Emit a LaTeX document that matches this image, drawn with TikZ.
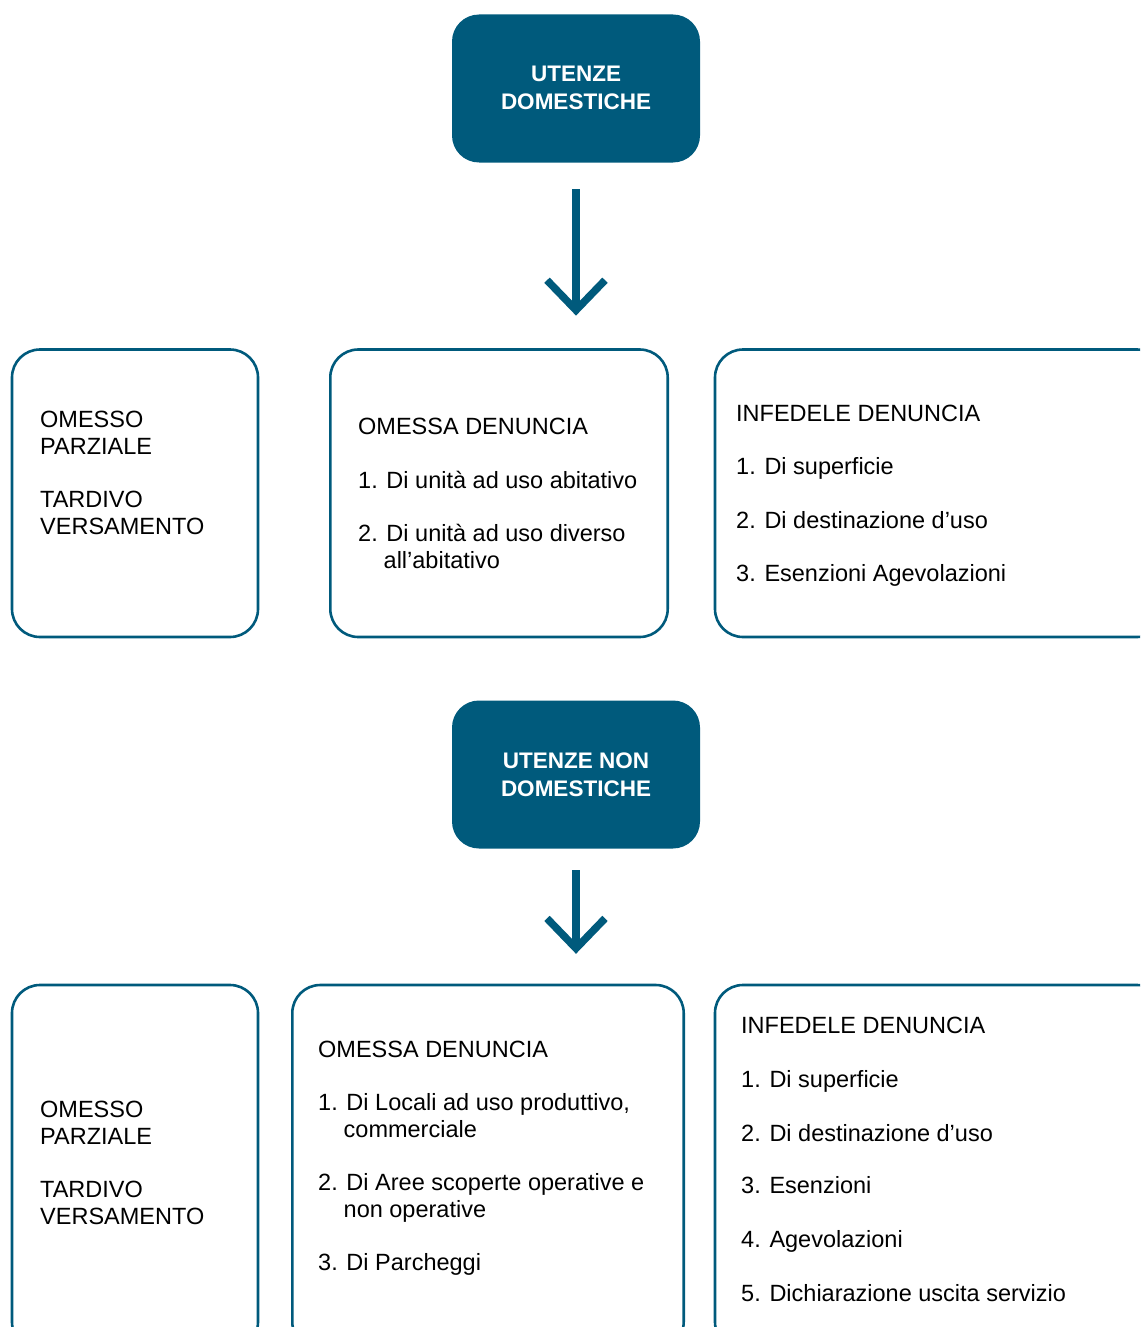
\documentclass[tikz,border=0pt]{standalone}
\usepackage{fontspec}
\setmainfont{Liberation Sans}
\definecolor{myteal}{RGB}{0,90,124}
\begin{document}
\begin{tikzpicture}[x=1pt,y=-1pt,
  darkbox/.style={fill=myteal, draw=none, rounded corners=27pt, inner sep=0},
  lightbox/.style={draw=myteal, line width=2.6pt, rounded corners=28pt, inner sep=0},
  txt/.style={anchor=base west, inner sep=0, font=\fontsize{23.5}{27}\selectfont},
  head/.style={anchor=base, inner sep=0, text=white, font=\bfseries\fontsize{22.5}{28}\selectfont},
  shaft/.style={draw=myteal, line width=7.5pt, miter limit=10}
]
\useasboundingbox (0,0) rectangle (1140,1327);
\clip (0,0) rectangle (1140,1327);

% ---------- top section ----------
\node[darkbox, minimum width=248pt, minimum height=148pt] (ud) at (576,88.5) {};
\node[head] (ud1) at (576,82) {UTENZE};
\node[head] (ud2) at (576,110) {DOMESTICHE};

\node[lightbox, minimum width=246pt, minimum height=287.5pt] (a) at (135,493.25) {};
\node[lightbox, minimum width=337.4pt, minimum height=287.5pt] (b) at (499,493.25) {};
\node[lightbox, minimum width=450pt, minimum height=287.5pt] (c) at (940,493.25) {};

\draw[shaft] ([yshift=-26.5pt]ud.south) -- ([yshift=38pt]ud.south |- b.north) coordinate (tip1);
\draw[shaft] ([shift={(-29pt,30pt)}]tip1) -- (tip1) -- ([shift={(29pt,30pt)}]tip1);

\node[txt] (a1) at (40,427) {OMESSO};
\node[txt] (a2) at (40,454) {PARZIALE};
\node[txt] (a3) at (40,507) {TARDIVO};
\node[txt] (a4) at (40,534) {VERSAMENTO};

\node[txt] (b1) at (358,434.5) {OMESSA DENUNCIA};
\node[txt] (b2) at (358,488.5) {1. Di unità ad uso abitativo};
\node[txt] (b3) at (358,541.5) {2. Di unità ad uso diverso};
\node[txt] (b4) at (383.5,568.5) {all’abitativo};

\node[txt] (c1) at (736,421) {INFEDELE DENUNCIA};
\node[txt] (c2) at (736,474) {1. Di superficie};
\node[txt] (c3) at (736,528) {2. Di destinazione d’uso};
\node[txt] (c4) at (736,581) {3. Esenzioni Agevolazioni};

% ---------- bottom section ----------
\node[darkbox, minimum width=248pt, minimum height=148pt] (und) at (576,774.5) {};
\node[head] (und1) at (576,768) {UTENZE NON};
\node[head] (und2) at (576,796) {DOMESTICHE};

\node[lightbox, minimum width=246pt, minimum height=365pt] (d) at (135,1167.5) {};
\node[lightbox, minimum width=391.4pt, minimum height=365pt] (e) at (488,1167.5) {};
\node[lightbox, minimum width=450pt, minimum height=365pt] (f) at (940,1167.5) {};

\draw[shaft] ([yshift=-21.5pt]und.south) -- ([yshift=35.3pt]und.south |- e.north) coordinate (tip2);
\draw[shaft] ([shift={(-29pt,30pt)}]tip2) -- (tip2) -- ([shift={(29pt,30pt)}]tip2);

\node[txt] (d1) at (40,1117.5) {OMESSO};
\node[txt] (d2) at (40,1144.5) {PARZIALE};
\node[txt] (d3) at (40,1197) {TARDIVO};
\node[txt] (d4) at (40,1224) {VERSAMENTO};

\node[txt] (e1) at (318,1057) {OMESSA DENUNCIA};
\node[txt] (e2) at (318,1110) {1. Di Locali ad uso produttivo,};
\node[txt] (e3) at (343.5,1137) {commerciale};
\node[txt] (e4) at (318,1190) {2. Di Aree scoperte operative e};
\node[txt] (e5) at (343.5,1217) {non operative};
\node[txt] (e6) at (318,1270) {3. Di Parcheggi};

\node[txt] (f1) at (741,1033) {INFEDELE DENUNCIA};
\node[txt] (f2) at (741,1087) {1. Di superficie};
\node[txt] (f3) at (741,1141) {2. Di destinazione d’uso};
\node[txt] (f4) at (741,1193.5) {3. Esenzioni};
\node[txt] (f5) at (741,1247) {4. Agevolazioni};
\node[txt] (f6) at (741,1301) {5. Dichiarazione uscita servizio};
\end{tikzpicture}
\end{document}
